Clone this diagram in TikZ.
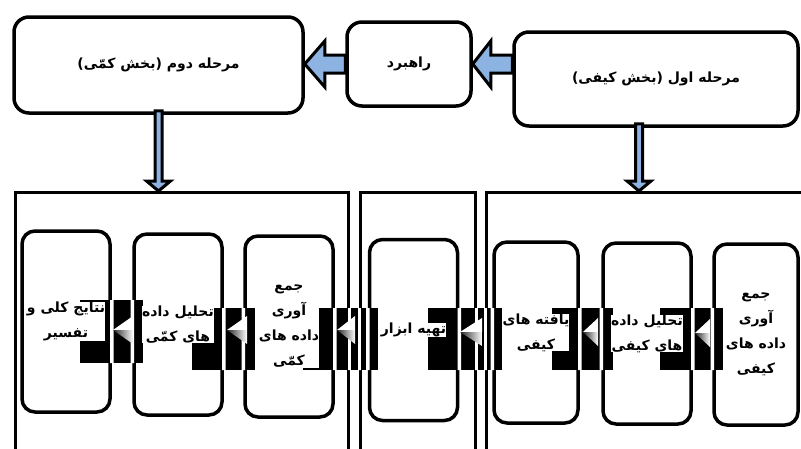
\documentclass[tikz,border=0pt]{standalone}
\usepackage{fontspec}
\usepackage{tikz}
\usetikzlibrary{calc}
\TeXXeTstate=1
\newfontfamily\fafont[Script=Arabic]{DejaVu Sans}
\newcommand{\fatxt}[1]{{\fafont\bfseries\beginR #1\endR}}
\definecolor{arrowblue}{RGB}{141,179,226}
\tikzstyle{phase}=[draw,line width=3.5pt,rounded corners=15pt,inner sep=0pt,font=\fontsize{14}{16}\selectfont]
\tikzstyle{task}=[draw,line width=3.5pt,rounded corners=13pt,inner sep=0pt,minimum width=88pt,minimum height=181pt]
\tikzstyle{frame}=[draw,line width=3pt,inner sep=0pt,anchor=north west,minimum height=300pt]
\tikzstyle{fatext}=[fill=white,inner sep=0pt,align=center,font=\fontsize{14}{25}\selectfont]
\tikzstyle{bigarrow}=[draw,line width=3pt,fill=arrowblue,line join=miter]
\tikzstyle{thinarrow}=[draw,line width=3pt,fill=arrowblue,line join=miter]

\begin{document}
\begin{tikzpicture}[x=1pt,y=-1pt]
      \useasboundingbox (0,0) rectangle (801,448);
      \node[phase,minimum width=289pt,minimum height=96pt] (dovom) at (158.5,65) {\fatxt{مرحله دوم (بخش کمّی)}};
      \node[phase,minimum width=124pt,minimum height=84pt] (rahbard) at (409,64) {\fatxt{راهبرد}};
      \node[phase,minimum width=284pt,minimum height=94pt] (aval) at (656,79) {\fatxt{مرحله اول (بخش کیفی)}};
      \node[frame,minimum width=333pt] (secL) at (13.5,191) {};
      \node[frame,minimum width=114.5pt] (secM) at (359,191) {};
      \node[frame,minimum width=330pt] (secR) at (485,191) {};
      \node[task] (b1) at (66,321.5) {};
      \node[task] (b2) at (178,324.5) {};
      \node[task] (b3) at (289,326.5) {};
      \node[task] (b4) at (413.5,330) {};
      \node[task,minimum width=84pt] (b5) at (536,332.5) {};
      \node[task] (b6) at (647,333.5) {};
      \node[task,minimum width=84pt] (b7) at (756,334.5) {};
      \coordinate (t1) at (dovom.east |- rahbard.west);
      \coordinate (t2) at (rahbard.east);
      \coordinate (s2) at (aval.west |- rahbard.east);
      \draw[bigarrow] ($(rahbard.west)+(0,-9)$) -- ($(t1)+(20,-9)$) -- ($(t1)+(20,-23)$) -- (t1)
            -- ($(t1)+(20,23)$) -- ($(t1)+(20,9)$) -- ($(rahbard.west)+(0,9)$) -- cycle;
      \draw[bigarrow] ($(s2)+(0,-9)$) -- ($(t2)+(18,-9)$) -- ($(t2)+(18,-23)$) -- (t2)
            -- ($(t2)+(18,23)$) -- ($(t2)+(18,9)$) -- ($(s2)+(0,9)$) -- cycle;
      \coordinate (a1) at ($(dovom.south)+(0,-4)$);
      \coordinate (d1) at (dovom.south |- secL.north);
      \coordinate (a2) at ($(aval.south)+(-17,-4)$);
      \coordinate (d2) at (a2 |- secR.north);
      \foreach \a/\d in {a1/d1,a2/d2}
        \draw[thinarrow] ($(\a)+(-3.5,0)$) -- ($(\d)+(-3.5,-10)$) -- ($(\d)+(-12,-10)$) -- (\d)
            -- ($(\d)+(12,-10)$) -- ($(\d)+(3.5,-10)$) -- ($(\a)+(3.5,0)$) -- cycle;
      \def\glitches{80/300/143/363,192/308/255/370,303/308/378/370,428/308/502/370,552/308/613/370,660/308/723/370}
      \foreach \xa/\ya/\xb/\yb in \glitches
        \fill (\xa,\ya) rectangle (\xb,\yb);
      \begin{scope}
        \clip \foreach \xa/\ya/\xb/\yb in \glitches {(\xa,\ya) rectangle (\xb,\yb)};
        \foreach \b in {b1,b2,b3,b4,b5,b6,b7}
          \draw[white,line width=3.5pt,rounded corners=13pt] (\b.north west) rectangle (\b.south east);
        \foreach \s in {secL,secM,secR}
          \draw[white,line width=3pt] (\s.north west) rectangle (\s.south east);
      \end{scope}
      \foreach \tx/\ty/\bx in {113/330/133,227/330/247,337/330/355,460/332/482,583/332/598,695/333/710}{
        \fill[white] (\tx,\ty) -- (\bx,\ty-14) -- (\bx,\ty) -- cycle;
        \shade[left color=black!85,right color=white] (\tx,\ty) -- (\bx,\ty) -- (\bx,\ty+14) -- cycle;
      }
      \node[fatext] (n1) at (b1) {\fatxt{نتایج کلی و}\\\fatxt{تفسیر}};
      \node[fatext] (n2) at (b2) {\fatxt{تحلیل داده}\\\fatxt{های کمّی}};
      \node[fatext] (n3) at (b3) {\fatxt{جمع}\\\fatxt{آوری}\\\fatxt{داده های}\\\fatxt{کمّی}};
      \node[fatext] (n4) at (b4) {\fatxt{تهیه ابزار}};
      \node[fatext] (n5) at (b5) {\fatxt{یافته های}\\\fatxt{کیفی}};
      \node[fatext] (n6) at (b6) {\fatxt{تحلیل داده}\\\fatxt{های کیفی}};
      \node[fatext] (n7) at (b7) {\fatxt{جمع}\\\fatxt{آوری}\\\fatxt{داده های}\\\fatxt{کیفی}};
    \end{tikzpicture}
\end{document}
